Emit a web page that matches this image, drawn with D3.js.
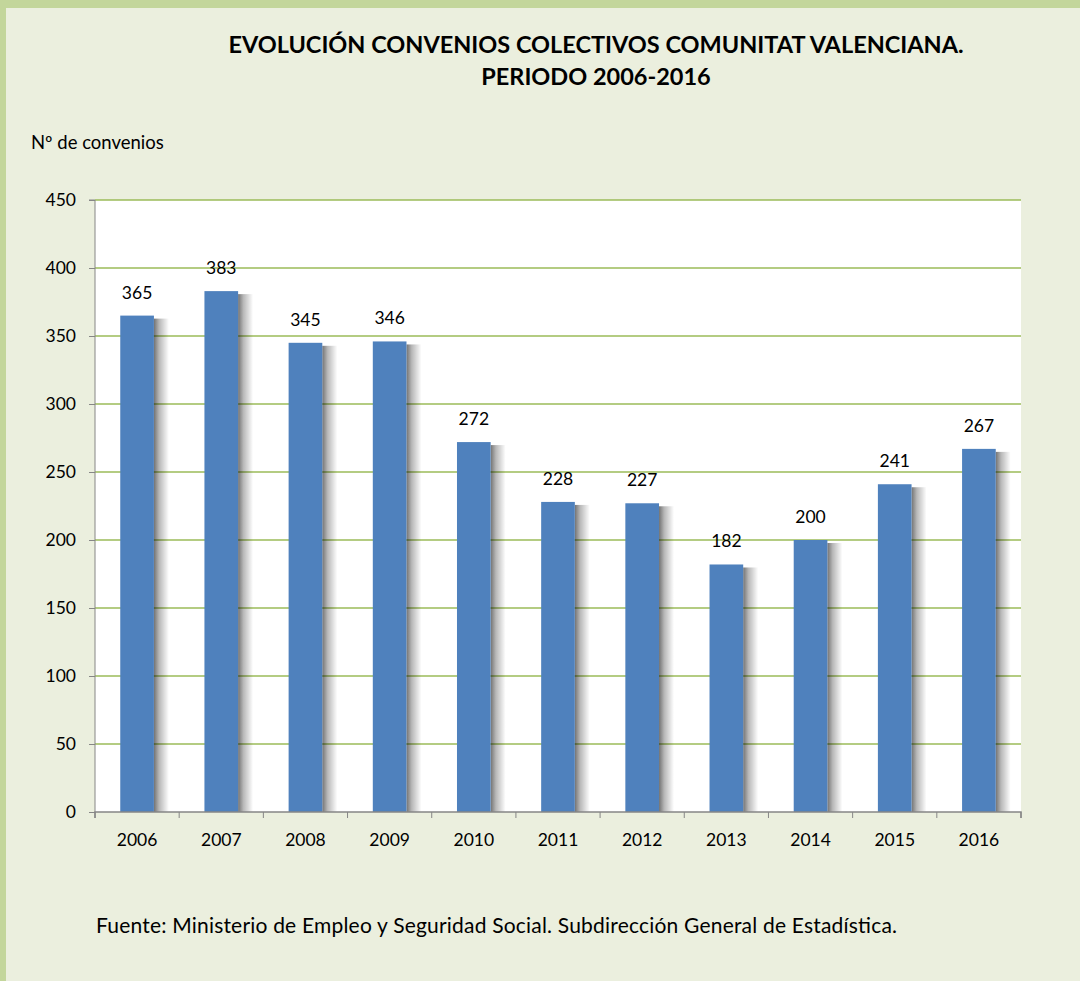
<!DOCTYPE html>
<html>
<head>
<meta charset="utf-8">
<script src="https://cdn.jsdelivr.net/npm/d3@7"></script>
<style>
  body { margin: 0; background: #ebefde; }
  svg { display: block; font-family: Lato, "Open Sans", sans-serif; }
</style>
</head>
<body>
<div id="chart"></div>
<script>
// data
const years = ["2006", "2007", "2008", "2009", "2010", "2011", "2012", "2013", "2014", "2015", "2016"];
const convenios = [365, 383, 345, 346, 272, 228, 227, 182, 200, 241, 267];
const yTicks = [0, 50, 100, 150, 200, 250, 300, 350, 400, 450];
const titleLines = ["EVOLUCIÓN CONVENIOS COLECTIVOS COMUNITAT VALENCIANA.", "PERIODO 2006-2016"];

const W = 1080, H = 981;
const margin = {top: 200, right: 59, bottom: 169, left: 95};
const width = W - margin.left - margin.right;
const height = H - margin.top - margin.bottom;

const svg = d3.select("#chart").append("svg")
    .attr("width", W)
    .attr("height", H);

// background + green frame (top and left)
svg.append("rect").attr("width", W).attr("height", H).attr("fill", "#ebefde");
svg.append("rect").attr("width", W).attr("height", 8).attr("fill", "#c3d69b");
svg.append("rect").attr("width", 6).attr("height", H).attr("fill", "#c3d69b");

// title
svg.append("text")
    .attr("x", 596)
    .attr("y", 53)
    .attr("text-anchor", "middle")
    .style("font-size", "23.5px")
    .style("font-weight", "bold")
    .style("fill", "#000")
    .selectAll("tspan")
    .data(titleLines)
    .join("tspan")
    .attr("x", 596)
    .attr("dy", (d, i) => i === 0 ? 0 : 32)
    .text(d => d);

svg.append("text")
    .attr("x", 31)
    .attr("y", 149)
    .style("font-size", "18.5px")
    .text("Nº de convenios");

svg.append("text")
    .attr("x", 96)
    .attr("y", 933)
    .attr("textLength", 801)
    .style("font-size", "21px")
    .text("Fuente: Ministerio de Empleo y Seguridad Social. Subdirección General de Estadística.");

const g = svg.append("g")
    .attr("transform", "translate(" + margin.left + "," + margin.top + ")");

// shadow gradient
const defs = svg.append("defs");
const grad = defs.append("linearGradient")
    .attr("id", "shadow")
    .attr("x1", "0%").attr("x2", "100%");
grad.append("stop").attr("offset", "0%").attr("stop-color", "#000").attr("stop-opacity", 0.55);
grad.append("stop").attr("offset", "35%").attr("stop-color", "#000").attr("stop-opacity", 0.28);
grad.append("stop").attr("offset", "100%").attr("stop-color", "#000").attr("stop-opacity", 0);

// scales
const x = d3.scaleBand()
    .domain(years)
    .range([0, width])
    .paddingInner(0.6)
    .paddingOuter(0.3);

const band = d3.scaleBand().domain(years).range([0, width]);

const y = d3.scaleLinear()
    .domain([0, 450])
    .range([height, 0]);

g.append("rect")
    .attr("width", width)
    .attr("height", height)
    .attr("fill", "#fff");

// gridlines
g.selectAll(".grid")
    .data(yTicks.filter(d => d > 0))
    .join("line")
    .attr("class", "grid")
    .attr("x1", 0).attr("x2", width)
    .attr("y1", d => y(d)).attr("y2", d => y(d))
    .attr("stroke", "#9bbb59")
    .attr("stroke-width", 1.5);

// bar shadows
g.selectAll(".shadow")
    .data(convenios)
    .join("rect")
    .attr("class", "shadow")
    .attr("x", (d, i) => x(years[i]) + x.bandwidth())
    .attr("y", d => y(d) + 3)
    .attr("width", 15)
    .attr("height", d => height - y(d) - 3)
    .attr("fill", "url(#shadow)");

// bars
g.selectAll(".bar")
    .data(convenios)
    .join("rect")
    .attr("class", "bar")
    .attr("x", (d, i) => x(years[i]))
    .attr("y", d => y(d))
    .attr("width", x.bandwidth())
    .attr("height", d => height - y(d))
    .attr("fill", "#4f81bd");

// value labels
g.selectAll(".label")
    .data(convenios)
    .join("text")
    .attr("class", "label")
    .attr("x", (d, i) => x(years[i]) + x.bandwidth() / 2)
    .attr("y", d => y(d) - 17)
    .attr("text-anchor", "middle")
    .style("font-size", "17.5px")
    .text(d => d);

// axes
const yAxis = d3.axisLeft(y).tickValues(yTicks).tickSize(6).tickPadding(13);
const yG = g.append("g").call(yAxis);
yG.select(".domain").attr("stroke", "#868686").attr("d", "M-6,0H0V" + height);

const xAxis = d3.axisBottom(band).tickSize(0).tickPadding(22);
const xG = g.append("g")
    .attr("transform", "translate(0," + height + ")")
    .call(xAxis);
xG.select(".domain").attr("stroke", "#868686").attr("stroke-width", 1.5).attr("d", "M0,6V0H" + width + "V6");

// x tick marks on band boundaries
xG.selectAll(".bound")
    .data(d3.range(years.length + 1))
    .join("line")
    .attr("class", "bound")
    .attr("x1", i => i * band.step()).attr("x2", i => i * band.step())
    .attr("y1", 0).attr("y2", 6)
    .attr("stroke", "#868686");

g.selectAll(".tick line").attr("stroke", "#868686");
g.selectAll(".tick text")
    .style("font-size", "17.5px")
    .style("font-family", "Lato, 'Open Sans', sans-serif")
    .attr("fill", "#000");
</script>
</body>
</html>
